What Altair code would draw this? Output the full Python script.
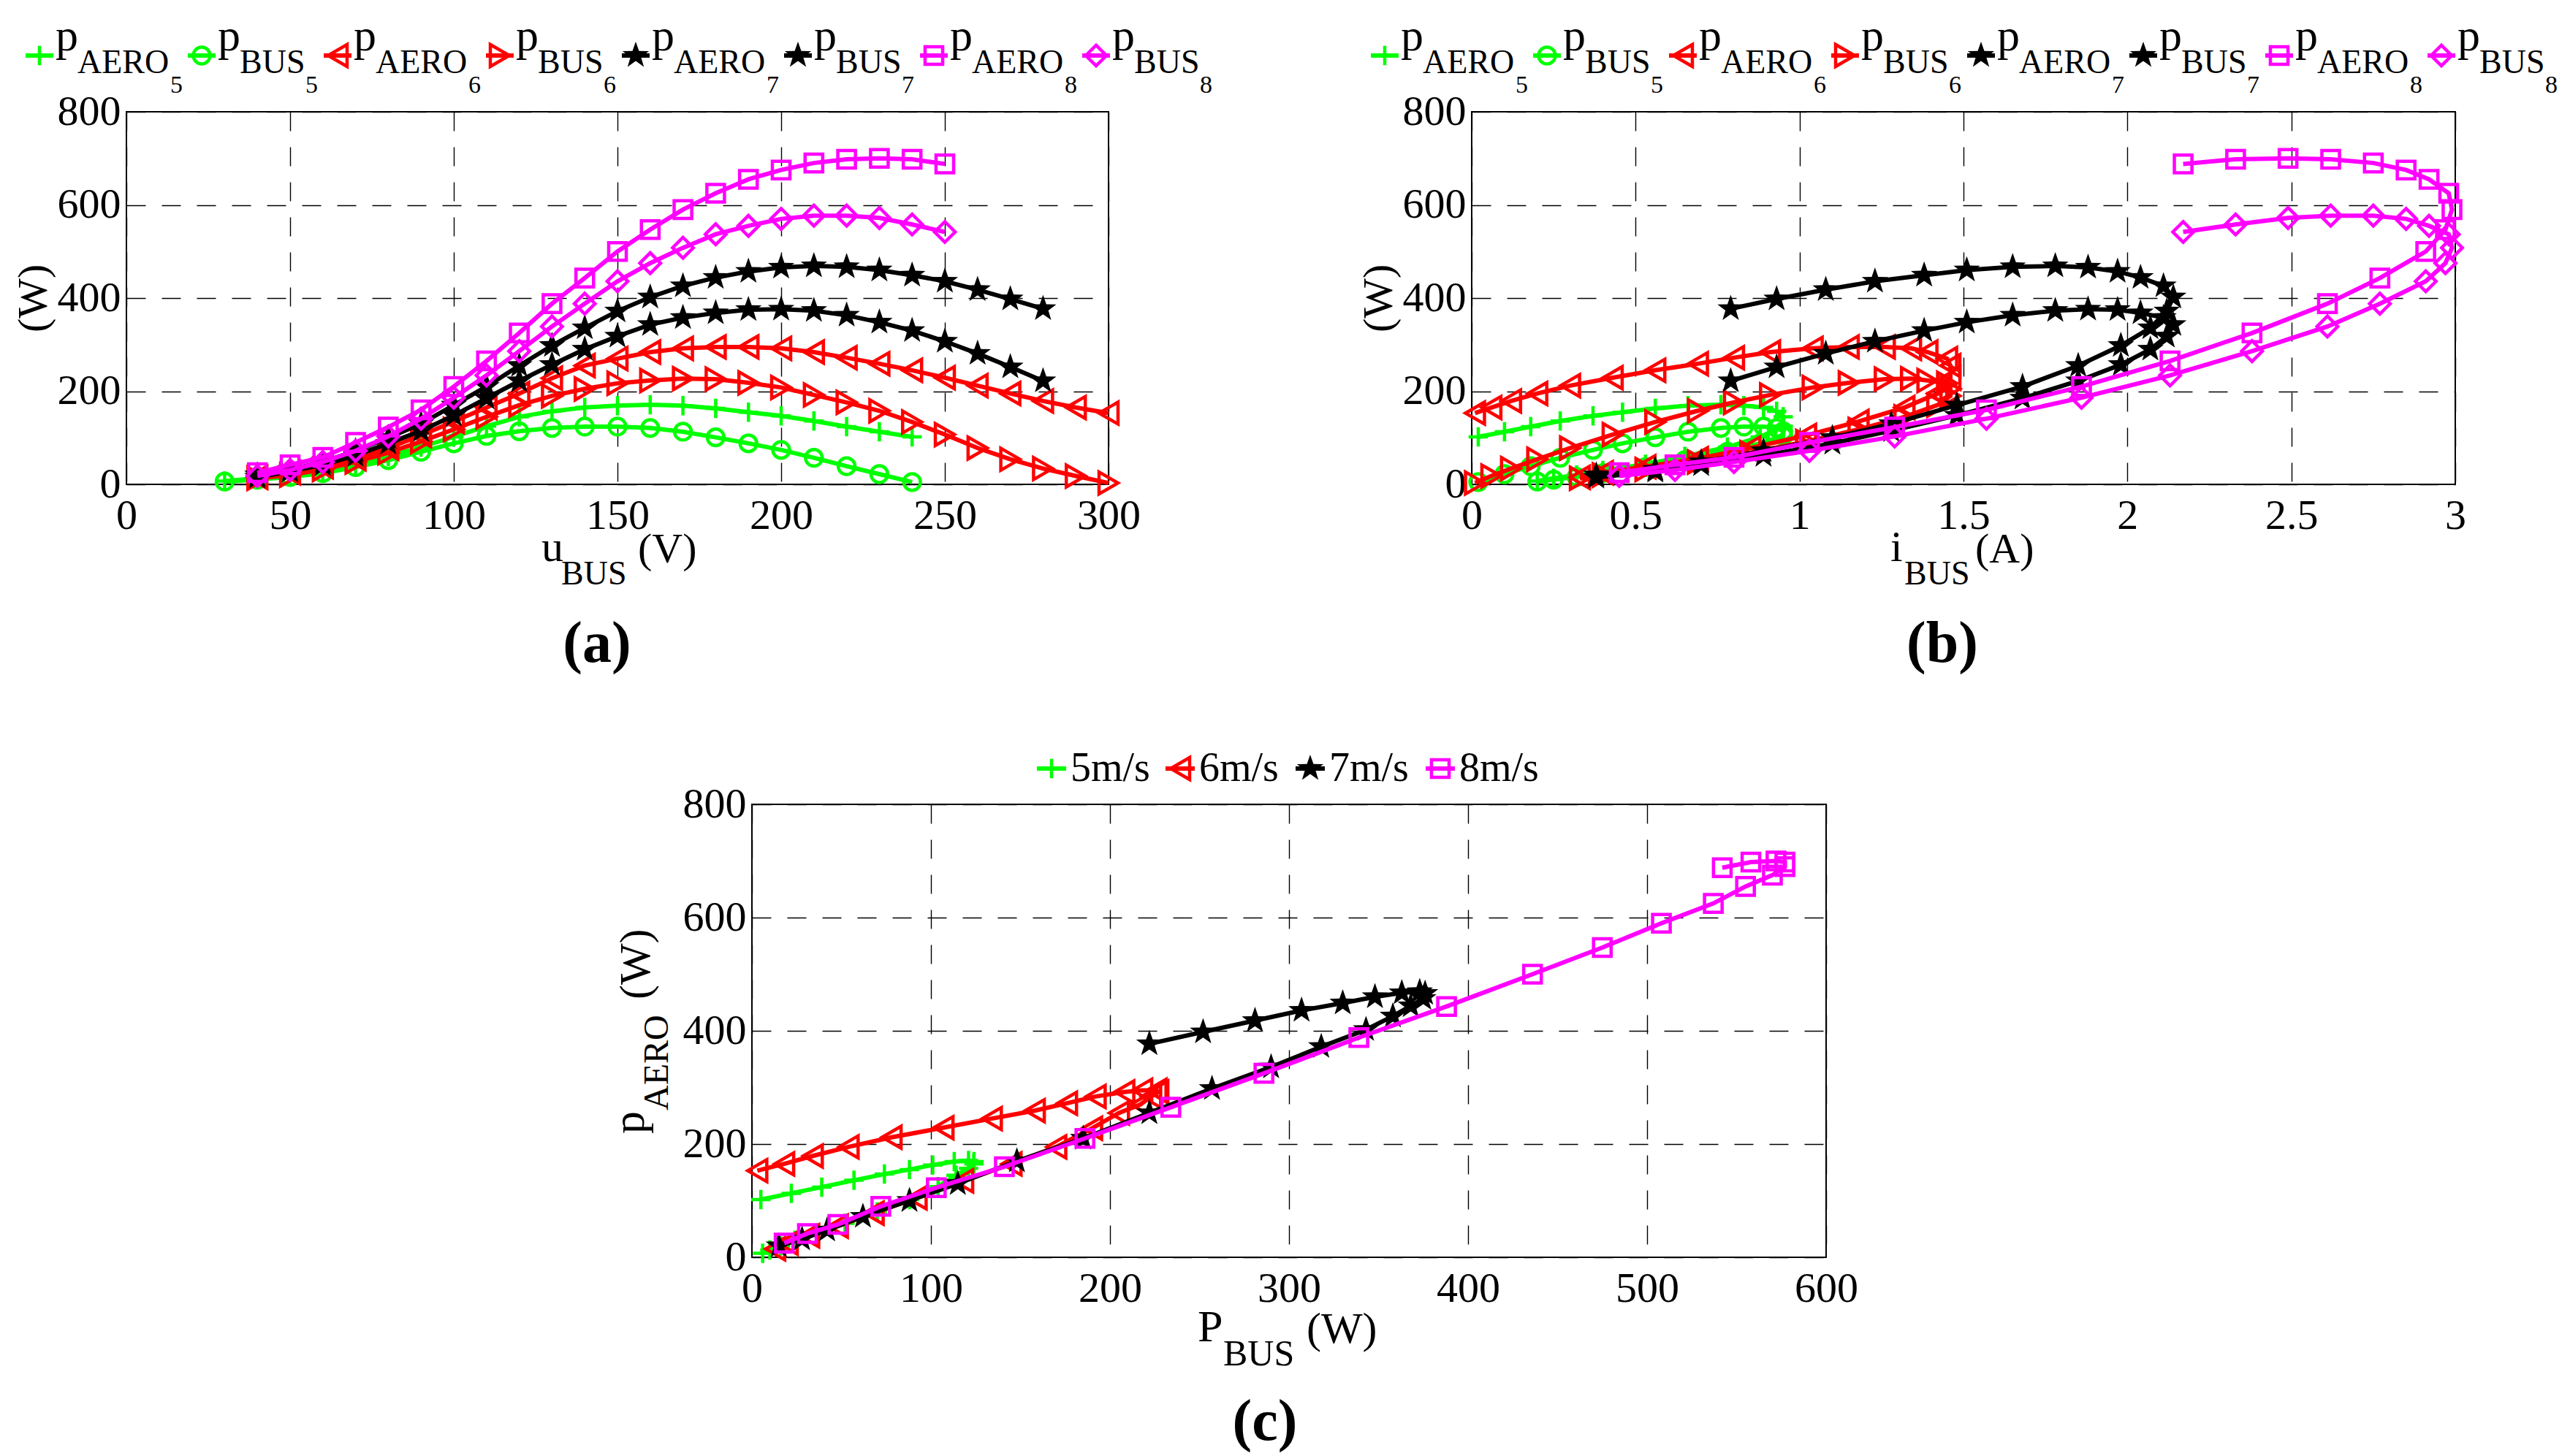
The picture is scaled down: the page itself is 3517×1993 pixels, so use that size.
import altair as alt
import pandas as pd

# ---------------- data ----------------
# 5 m/s
u5 = [30, 40, 50, 60, 70, 80, 90, 100, 110, 120, 130, 140, 150, 160, 170, 180, 190, 200, 210, 220, 230, 240]
aero5 = [7, 13, 20, 30, 43, 60, 80, 102, 125, 145, 157, 165, 169, 171, 169, 163, 155, 147, 136, 124, 113, 102]
bus5 = [6, 10, 16, 24, 37, 52, 70, 88, 104, 114, 121, 124, 124, 121, 113, 101, 88, 74, 57, 39, 22, 5]
i5 = [0.20, 0.25, 0.32, 0.40, 0.53, 0.65, 0.78, 0.88, 0.95, 0.95, 0.93, 0.89, 0.83, 0.76, 0.66, 0.56, 0.46, 0.37, 0.27, 0.18, 0.10, 0.02]
# 6 m/s
u6 = [40, 50, 60, 70, 80, 90, 100, 110, 120, 130, 140, 150, 160, 170, 180, 190, 200, 210, 220, 230, 240, 250, 260, 270, 280, 290, 300]
aero6 = [15, 25, 38, 55, 78, 105, 135, 165, 195, 228, 255, 270, 284, 292, 295, 295, 292, 284, 272, 259, 245, 229, 212, 195, 179, 165, 153]
bus6 = [13, 20, 32, 48, 68, 92, 118, 145, 170, 190, 205, 217, 223, 227, 226, 218, 208, 192, 176, 158, 134, 107, 78, 54, 34, 18, 3]
i6 = [0.33, 0.40, 0.53, 0.69, 0.85, 1.02, 1.18, 1.32, 1.42, 1.46, 1.46, 1.45, 1.39, 1.34, 1.26, 1.15, 1.04, 0.91, 0.80, 0.69, 0.56, 0.43, 0.30, 0.20, 0.12, 0.06, 0.01]
# 7 m/s
u7 = [40, 50, 60, 70, 80, 90, 100, 110, 120, 130, 140, 150, 160, 170, 180, 190, 200, 210, 220, 230, 240, 250, 260, 270, 280]
aero7 = [20, 32, 48, 72, 100, 130, 170, 210, 255, 298, 336, 372, 402, 426, 444, 457, 466, 469, 467, 460, 449, 436, 418, 398, 377]
bus7 = [15, 28, 42, 62, 88, 115, 148, 185, 222, 257, 290, 318, 343, 358, 368, 375, 376, 373, 363, 348, 330, 307, 281, 252, 222]
i7 = [0.38, 0.56, 0.70, 0.89, 1.10, 1.28, 1.48, 1.68, 1.85, 1.98, 2.07, 2.12, 2.14, 2.11, 2.04, 1.97, 1.88, 1.78, 1.65, 1.51, 1.38, 1.23, 1.08, 0.93, 0.79]
# 8 m/s
u8 = [40, 50, 60, 70, 80, 90, 100, 110, 120, 130, 140, 150, 160, 170, 180, 190, 200, 210, 220, 230, 240, 250]
aero8 = [25, 42, 58, 90, 123, 160, 210, 265, 325, 388, 443, 500, 547, 590, 625, 655, 675, 690, 698, 700, 698, 688]
bus8 = [18, 31, 48, 72, 103, 141, 186, 234, 286, 339, 388, 436, 475, 508, 537, 555, 570, 577, 577, 572, 558, 542]
i8 = [0.45, 0.62, 0.80, 1.03, 1.29, 1.57, 1.86, 2.13, 2.38, 2.61, 2.77, 2.91, 2.97, 2.99, 2.98, 2.92, 2.85, 2.75, 2.62, 2.49, 2.33, 2.17]

u_ticks = [0, 50, 100, 150, 200, 250, 300]
i_ticks = [0, 0.5, 1, 1.5, 2, 2.5, 3]
pbus_ticks = [0, 100, 200, 300, 400, 500, 600]
w_ticks = [0, 200, 400, 600, 800]
wind_labels = ["5m/s", "6m/s", "7m/s", "8m/s"]

# ---------------- styles ----------------
SERIF = "Liberation Serif"
GREEN, RED, BLACK, MAG = "#00ff00", "#ff0000", "#000000", "#ff00ff"
PLUS = "M-1,0L1,0M0,-1L0,1"
STAR = ("M0,-1L0.235,-0.324L0.951,-0.309L0.38,0.124L0.588,0.809L0,0.4"
        "L-0.588,0.809L-0.38,0.124L-0.951,-0.309L-0.235,-0.324Z")
STYLE = {
    "AERO5": (GREEN, PLUS, False, 700),
    "BUS5": (GREEN, "circle", False, 520),
    "AERO6": (RED, "triangle-left", False, 900),
    "BUS6": (RED, "triangle-right", False, 900),
    "AERO7": (BLACK, STAR, True, 1450),
    "BUS7": (BLACK, STAR, True, 1450),
    "AERO8": (MAG, "square", False, 580),
    "BUS8": (MAG, "diamond", False, 800),
}
LINE_W = 6
MARK_W = 4.5
TICK_FS = 58
dummy = pd.DataFrame({"d": [0]})


def make_axis(vals, pad, fmt=None):
    kw = dict(values=vals, title=None, grid=True, ticks=False, domain=False,
              labelFont=SERIF, labelFontSize=TICK_FS, labelColor="black",
              labelOverlap=False, labelFlush=False, labelBound=False,
              labelPadding=pad, gridColor="black", gridDash=[26, 22],
              gridWidth=1.4, gridOpacity=1)
    if fmt:
        kw["format"] = fmt
    return alt.Axis(**kw)


def text_layer(rows, angle=None, weight="normal", align="left"):
    df = pd.DataFrame(rows, columns=["tx", "ty", "txt", "fs"])
    mk = dict(font=SERIF, align=align, baseline="alphabetic", color="black", fontWeight=weight)
    if angle is not None:
        mk["angle"] = angle
    return alt.Chart(df).mark_text(**mk).encode(
        x=alt.X("tx:Q", scale=None),
        y=alt.Y("ty:Q", scale=None),
        text="txt:N",
        size=alt.Size("fs:Q", scale=None),
    )


def symbol_layers(key, x1, x2, y):
    color, shape, filled, size = STYLE[key]
    seg = alt.Chart(dummy).mark_rule(color=color, strokeWidth=LINE_W).encode(
        x=alt.value(x1), x2=alt.value(x2), y=alt.value(y))
    sym = alt.Chart(dummy).mark_point(shape=shape, color=color, filled=filled, size=size,
                                      strokeWidth=MARK_W, opacity=1).encode(
        x=alt.value((x1 + x2) / 2), y=alt.value(y))
    return [seg, sym]


def panel(series, xdom, xvals, ydom, yvals, xfmt=None):
    rows = []
    for key, xs, ys in series:
        for k, (a, b) in enumerate(zip(xs, ys)):
            rows.append({"series": key, "k": k, "x": a, "y": b})
    df = pd.DataFrame(rows)
    base = alt.Chart(df).encode(
        x=alt.X("x:Q", scale=alt.Scale(domain=xdom, nice=False, zero=False),
                axis=make_axis(xvals, 14, xfmt)),
        y=alt.Y("y:Q", scale=alt.Scale(domain=ydom, nice=False, zero=False),
                axis=make_axis(yvals, 8)),
        order=alt.Order("k:Q"),
    )
    layers = []
    for key, xs, ys in series:
        color, shape, filled, size = STYLE[key]
        f = base.transform_filter(alt.datum.series == key)
        layers.append(f.mark_line(color=color, strokeWidth=LINE_W))
        layers.append(f.mark_point(shape=shape, color=color, filled=filled, size=size,
                                   strokeWidth=MARK_W, opacity=1))
    return layers


# ---------------- panels (a) and (b) ----------------
AW, AH = 1344, 510
BW, BH = 1346, 510
CW, CH = 1470, 620

leg_keys = ["AERO5", "BUS5", "AERO6", "BUS6", "AERO7", "BUS7", "AERO8", "BUS8"]
leg_L = [-138, 84, 270, 492, 678, 900, 1086, 1308]


def top_legend():
    layers = []
    trows = []
    for key, L in zip(leg_keys, leg_L):
        layers += symbol_layers(key, L, L + 38, -77)
        sub = "AERO" if key.startswith("AERO") else "BUS"
        num = key[-1]
        trows.append((L + 41, -84, "p", 62))
        trows.append((L + 71, -53, sub, 46))
        trows.append((L + (198 if sub == "AERO" else 161), -26, num, 34))
    layers.append(text_layer(trows))
    return layers


series_a = [("AERO5", u5, aero5), ("BUS5", u5, bus5), ("AERO6", u6, aero6), ("BUS6", u6, bus6),
            ("AERO7", u7, aero7), ("BUS7", u7, bus7), ("AERO8", u8, aero8), ("BUS8", u8, bus8)]
series_b = [("AERO5", i5, aero5), ("BUS5", i5, bus5), ("AERO6", i6, aero6), ("BUS6", i6, bus6),
            ("AERO7", i7, aero7), ("BUS7", i7, bus7), ("AERO8", i8, aero8), ("BUS8", i8, bus8)]

A_layers = panel(series_a, [0, 300], u_ticks, [0, 800], w_ticks)
A_layers += top_legend()
A_layers.append(text_layer([(568, AH + 105, "u", 60), (595, AH + 137, "BUS", 46),
                            (700, AH + 107, "(V)", 58)]))
A_layers.append(text_layer([(-109, 302, "(W)", 58)], angle=270))
A_layers.append(text_layer([(644, AH + 243, "(a)", 80)], weight="bold", align="center"))
A = alt.layer(*A_layers).properties(width=AW, height=AH)

B_layers = panel(series_b, [0, 3], i_ticks, [0, 800], w_ticks, xfmt="~g")
B_layers += top_legend()
B_layers.append(text_layer([(573, BH + 105, "i", 60), (592, BH + 137, "BUS", 46),
                            (689, BH + 107, "(A)", 58)]))
B_layers.append(text_layer([(-109, 302, "(W)", 58)], angle=270))
B_layers.append(text_layer([(644, BH + 243, "(b)", 80)], weight="bold", align="center"))
B = alt.layer(*B_layers).properties(width=BW, height=BH)

# ---------------- panel (c) ----------------
series_c = [("AERO5", bus5, aero5), ("AERO6", bus6, aero6), ("AERO7", bus7, aero7), ("AERO8", bus8, aero8)]
C_layers = panel(series_c, [0, 600], pbus_ticks, [0, 800], w_ticks)
c_L = [390, 566, 744, 922]
c_rows = []
for key, L, lab in zip(["AERO5", "AERO6", "AERO7", "AERO8"], c_L, wind_labels):
    C_layers += symbol_layers(key, L, L + 40, -49)
    c_rows.append((L + 46, -32, lab, 56))
C_layers.append(text_layer(c_rows))
C_layers.append(text_layer([(610, CH + 115, "P", 62), (645, CH + 148, "BUS", 50),
                            (759, CH + 117, "(W)", 60)]))
C_layers.append(text_layer([(-148, 451, "p", 62), (-115, 419, "AERO", 48),
                            (-140, 267, "(W)", 60)], angle=270))
C_layers.append(text_layer([(702, CH + 250, "(c)", 80)], weight="bold", align="center"))
C = alt.layer(*C_layers).properties(width=CW, height=CH)

spacer = alt.Chart(dummy).mark_point(opacity=0).encode(
    x=alt.value(0), y=alt.value(0)).properties(
    width=656, height=10, view=alt.ViewBackground(stroke="transparent"))

row1 = alt.hconcat(A, B, spacing=198)
row2 = alt.hconcat(spacer, C, spacing=0)

chart = alt.vconcat(row1, row2, spacing=100).properties(
    padding={"left": 9, "top": 10, "right": 2, "bottom": 0},
    background="white",
).configure_view(stroke="black", strokeWidth=2)

chart.save("out.html", embed_options={"renderer": "svg", "actions": False})
